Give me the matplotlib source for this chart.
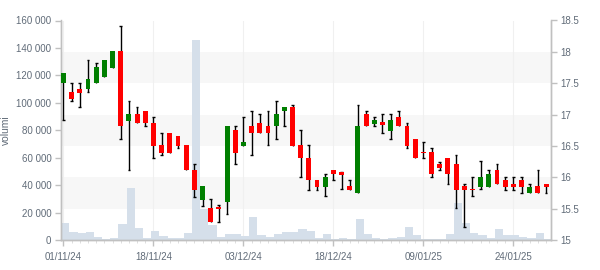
import numpy as np
import pandas as pd
import matplotlib
matplotlib.use('Agg')
import matplotlib.pyplot as plt
import matplotlib.ticker as mtick

# trading days (Borsa Italiana, holidays excluded)
holidays = ['2024-12-24', '2024-12-25', '2024-12-26', '2024-12-31', '2025-01-01']
dates = pd.bdate_range('2024-11-01', '2025-01-30', freq='C', holidays=holidays)

opens = [17.51, 17.36, 17.41, 17.40, 17.51, 17.60, 17.75, 18.01, 16.90, 17.01,
         17.06, 16.87, 16.52, 16.71, 16.66, 16.52, 16.12, 15.64, 15.51, 15.52,
         15.60, 16.75, 16.50, 16.82, 16.87, 16.82, 16.81, 17.05, 17.12, 16.52,
         16.30, 15.96, 15.85, 16.12, 16.08, 15.86, 15.75, 17.01, 16.85, 16.88,
         16.74, 16.96, 16.82, 16.61, 16.41, 16.40, 16.21, 16.30, 16.21, 15.86,
         15.82, 15.85, 15.85, 16.12, 15.96, 15.90, 15.96, 15.75, 15.86, 15.90]
highs = [17.66, 17.51, 17.51, 17.87, 17.82, 17.87, 18.01, 18.41, 17.21, 17.12,
         17.06, 16.96, 16.70, 16.71, 16.66, 16.52, 16.21, 15.86, 15.65, 15.56,
         16.82, 16.81, 16.96, 17.05, 17.01, 17.05, 17.21, 17.12, 17.16, 16.75,
         16.51, 15.96, 16.06, 16.12, 16.09, 15.96, 17.16, 17.05, 16.96, 17.01,
         17.01, 17.05, 16.86, 16.61, 16.56, 16.46, 16.25, 16.30, 16.35, 15.90,
         16.00, 16.26, 16.11, 16.21, 16.00, 16.00, 16.00, 15.90, 16.12, 15.90]
lows = [16.91, 17.21, 17.12, 17.36, 17.51, 17.60, 17.75, 16.61, 16.11, 16.86,
        16.81, 16.30, 16.35, 16.39, 16.46, 16.11, 15.69, 15.55, 15.29, 15.29,
        15.41, 16.21, 16.50, 16.35, 16.70, 16.51, 16.61, 16.81, 16.50, 16.00,
        15.80, 15.80, 15.70, 15.95, 15.81, 15.80, 15.75, 16.81, 16.81, 16.70,
        16.61, 16.81, 16.46, 16.30, 16.30, 16.00, 16.11, 15.90, 15.51, 15.20,
        15.70, 15.81, 15.85, 15.90, 15.80, 15.80, 15.75, 15.75, 15.75, 15.75]
closes = [17.66, 17.25, 17.35, 17.57, 17.76, 17.87, 18.01, 16.81, 17.01, 16.86,
          16.86, 16.50, 16.39, 16.39, 16.50, 16.11, 15.80, 15.86, 15.29, 15.49,
          16.82, 16.39, 16.56, 16.70, 16.70, 16.70, 17.01, 17.12, 16.50, 16.30,
          15.95, 15.85, 16.00, 16.05, 16.04, 15.80, 16.82, 16.81, 16.91, 16.84,
          16.91, 16.81, 16.50, 16.30, 16.38, 16.06, 16.15, 16.06, 15.80, 15.80,
          15.79, 16.00, 16.06, 15.90, 15.85, 15.85, 15.85, 15.85, 15.75, 15.85]
volumes = [12400, 5800, 5100, 5800, 2200, 700, 1500, 11700, 37900, 8700,
           1500, 6600, 2900, 1500, 1500, 5100, 145800, 22400, 10900, 2200,
           4400, 4400, 2900, 16800, 3600, 2200, 4400, 5800, 5800, 8000,
           6600, 1500, 4400, 700, 1500, 700, 15300, 4400, 1500, 700,
           1500, 2200, 9500, 3600, 700, 700, 700, 4400, 27000, 12400,
           5100, 3600, 1500, 8000, 3600, 3600, 2200, 1500, 5100, 700]

opens = np.array(opens); closes = np.array(closes)
highs = np.array(highs); lows = np.array(lows)
idx = np.arange(len(opens))

plt.rcParams['font.family'] = ['Liberation Sans', 'DejaVu Sans']
txt = '#606b78'
axc = '#c0c0c0'
fs = 7.0

fig = plt.figure(figsize=(6, 2.7), dpi=100)
ax = fig.add_axes([61/600, 30/270, 490/600, 219.5/270])
ax2 = ax.twinx()

vmax = 160000
pmin, pmax = 15, 18.5
p2v = lambda p: (p - pmin) / (pmax - pmin) * vmax

# background bands
for b in [15.5, 16.5, 17.5]:
    ax.axhspan(p2v(b), p2v(b + 0.5), color='#f7f7f7', lw=0, zorder=0)
for t in range(0, len(idx), 11):
    ax.axvline(t, color='#f0f0f0', lw=0.8, zorder=0.5)

# volumes
ax.bar(idx - 0.28, volumes, width=1.0, align='edge', color='#d5dfea', lw=0, zorder=1)

# candles
up = closes >= opens
cols = np.where(up, '#007f00', '#ff0000')
bot = np.minimum(opens, closes)
top = np.maximum(opens, closes)
ax2.vlines(idx, lows, highs, color='black', lw=1, zorder=2)
cap = 0.17
hw = highs > top + 0.005
lw_ = lows < bot - 0.005
ax2.hlines(highs[hw], idx[hw] - cap, idx[hw] + cap, color='black', lw=1, zorder=2)
ax2.hlines(lows[lw_], idx[lw_] - cap, idx[lw_] + cap, color='black', lw=1, zorder=2)
ax2.bar(idx, np.maximum(top - bot, 0.02), bottom=bot, width=0.6, color=cols, lw=0, zorder=3)

ax.set_xlim(-0.3, 59.6)
ax.set_ylim(0, vmax)
ax2.set_ylim(pmin, pmax)

ax.yaxis.set_major_locator(mtick.MultipleLocator(20000))
ax.yaxis.set_major_formatter(mtick.FuncFormatter(lambda v, p: f'{int(v):,}'.replace(',', ' ')))
ax2.yaxis.set_major_locator(mtick.MultipleLocator(0.5))
ax2.yaxis.set_major_formatter(mtick.FuncFormatter(lambda v, p: f'{v:g}'))

major = idx[::11]
ax.set_xticks(major)
ax.set_xticklabels([dates[i].strftime('%d/%m/%y') for i in major])
ax.set_xticks(idx, minor=True)

for a in (ax, ax2):
    for s in a.spines.values():
        s.set_color(axc)
        s.set_linewidth(1)
    a.spines['top'].set_visible(False)
    a.tick_params(colors=axc, labelcolor=txt, labelsize=fs, length=4, width=1)
ax.tick_params(axis='x', which='minor', length=2, color='#d8d8d8')
ax.tick_params(axis='x', which='major', length=4, pad=5)
ax.tick_params(axis='y', pad=3)
ax2.tick_params(axis='y', pad=3)
ax.set_ylabel('volumi', color=txt, fontsize=7.4, labelpad=4)

plt.savefig('out.png', dpi=100)
